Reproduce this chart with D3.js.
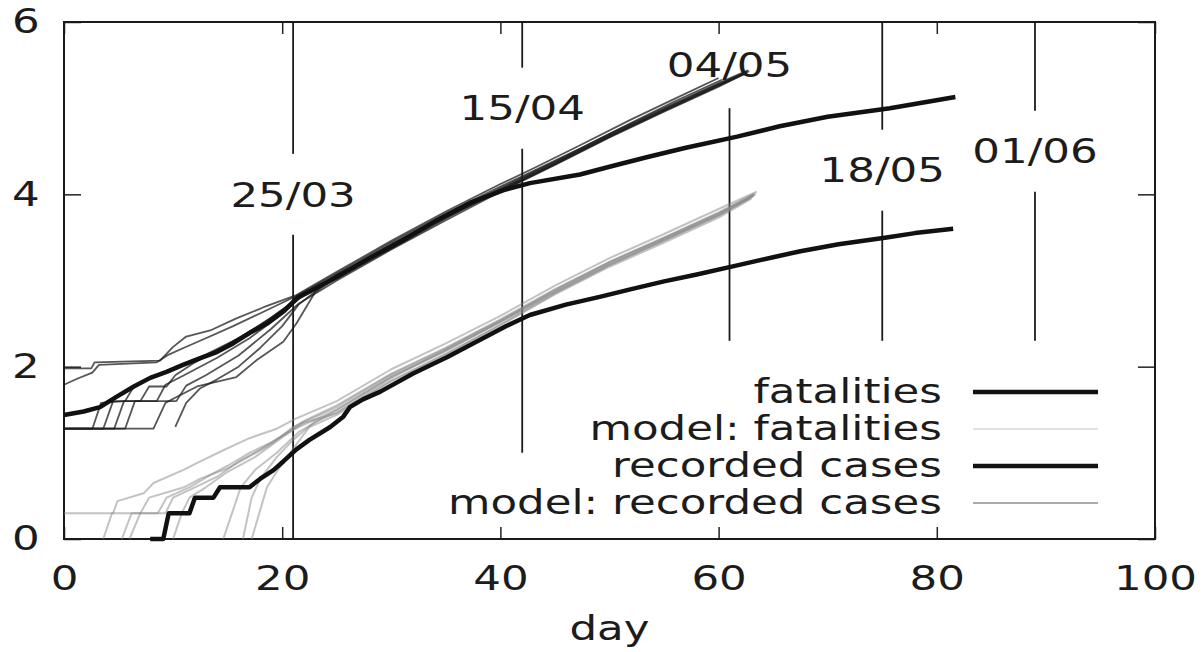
<!DOCTYPE html>
<html>
<head>
<meta charset="utf-8">
<script src="https://cdn.jsdelivr.net/npm/d3@7"></script>
<style>
body { margin: 0; background: #fff; }
text { font-family: "DejaVu Sans", Verdana, sans-serif; font-size: 34px; fill: #1c1c1c; }
</style>
</head>
<body>
<script>

var xTicks = [0, 20, 40, 60, 80, 100];
var yTicks = [0, 2, 4, 6];

// dates marked with vertical lines
var markDays = [21, 42, 61, 75, 89];
var markLabels = ["25/03", "15/04", "04/05", "18/05", "01/06"];
var markLabelLevels = [4.0, 5.0, 5.5, 4.28, 4.5];
var markLows = [0, 1.0, 2.3, 2.3, 2.3];
var markHighs = [6, 6, 5.0, 6, 6];

var legendNames = ["fatalities", "model: fatalities", "recorded cases", "model: recorded cases"];

// [day, log10 value]
var recordedCases = [
    [0, 1.44], [1.8, 1.48], [3.3, 1.53], [4.8, 1.65], [6.4, 1.77], [7.9, 1.87], [9.4, 1.94],
    [10.9, 2.02], [12.5, 2.1], [14, 2.17], [15.5, 2.27], [17, 2.39], [18.6, 2.5], [20.1, 2.64],
    [21.4, 2.8], [25, 3.04], [28, 3.26], [31.1, 3.47], [34.2, 3.7], [37.2, 3.9], [40.3, 4.05],
    [42.7, 4.13], [47.3, 4.23], [50, 4.32], [53.4, 4.43], [57, 4.54], [61.7, 4.67], [65.6, 4.79],
    [70, 4.9], [75.7, 5.0], [81.7, 5.13]
];

var fatalities = [
    [7.9, 0], [9.1, 0], [9.6, 0.3], [11.5, 0.3], [12.0, 0.48], [13.7, 0.48], [14.3, 0.6], [17, 0.6],
    [18, 0.7], [19.2, 0.8], [20.1, 0.9], [21.3, 1.04], [22.5, 1.15], [24.4, 1.3], [25.6, 1.42],
    [26.2, 1.53], [27.4, 1.62], [29, 1.71], [32, 1.92], [35.1, 2.11], [38.1, 2.31], [40.5, 2.47],
    [42.7, 2.6], [46, 2.72], [49.1, 2.81], [52, 2.9], [55, 2.99], [58, 3.07], [61.5, 3.17],
    [65, 3.27], [67.5, 3.34], [71, 3.42], [75.4, 3.5], [78, 3.55], [81.5, 3.6]
];

var modelCases = [
    [[0, 1.98], [2.5, 1.98], [2.8, 2.05], [8.8, 2.07], [10, 2.23], [11.2, 2.35], [13.4, 2.42], [15.8, 2.56],
     [18.3, 2.69], [21.3, 2.83], [25, 3.1], [30, 3.46], [35, 3.8], [40, 4.12], [43, 4.3], [47.3, 4.57],
     [52, 4.87], [56, 5.11], [60, 5.35]],
    [[0, 1.79], [1.2, 1.86], [2.6, 1.93], [3.2, 2.02], [8.5, 2.05], [9.6, 2.14], [11, 2.22], [13, 2.33],
     [15.5, 2.47], [18, 2.62], [21.3, 2.82], [25, 3.08], [30, 3.44], [35, 3.78], [40, 4.09], [43, 4.27],
     [47.3, 4.53], [52, 4.83], [56, 5.08], [60.3, 5.33]],
    [[0, 1.28], [2.6, 1.28], [3.4, 1.58], [5.6, 1.6], [6.4, 1.77], [7.8, 1.86], [10, 1.98], [13, 2.14],
     [16, 2.33], [19, 2.57], [21.5, 2.8], [25, 3.05], [30, 3.4], [35, 3.73], [40, 4.04], [45, 4.35],
     [50, 4.67], [55, 4.97], [60, 5.26], [62.6, 5.41]],
    [[0, 1.28], [3.6, 1.28], [4.5, 1.6], [7, 1.6], [7.8, 1.77], [9.4, 1.77], [10.2, 1.9], [12, 2.05],
     [15, 2.26], [18, 2.48], [21.5, 2.79], [25, 3.02], [30, 3.37], [35, 3.72], [40, 4.06], [45, 4.37],
     [50, 4.69], [55, 4.99], [60, 5.28], [62.8, 5.43]],
    [[0, 1.28], [4.6, 1.28], [5.5, 1.6], [8.5, 1.6], [9.3, 1.79], [11, 1.9], [14, 2.1], [17, 2.33],
     [20, 2.61], [22, 2.84], [25, 3.06], [30, 3.42], [35, 3.76], [40, 4.05], [45, 4.36], [50, 4.68],
     [55, 4.98], [60, 5.27], [62.5, 5.42]],
    [[0, 1.28], [5.6, 1.28], [6.5, 1.6], [10.3, 1.6], [11.2, 1.78], [13, 1.9], [16, 2.13], [19, 2.44],
     [21.5, 2.73], [25, 3.0], [30, 3.36], [35, 3.7], [40, 4.03], [45, 4.34], [50, 4.66], [55, 4.96],
     [60, 5.25], [62.4, 5.4]],
    [[0, 1.28], [8.2, 1.28], [9.3, 1.58], [10.5, 1.66], [12.2, 1.77], [15.8, 1.88], [17.7, 2.08],
     [20.1, 2.29], [21.3, 2.5], [23, 2.86], [25, 3.04], [30, 3.41], [35, 3.76], [40, 4.07], [45, 4.38],
     [50, 4.7], [55, 5.0], [60, 5.29], [62.7, 5.44]],
    [[10.2, 1.3], [11.2, 1.58], [12.5, 1.75], [14, 1.85], [16, 2.0], [18, 2.22], [20, 2.47], [21.5, 2.72],
     [25, 3.07], [30, 3.39], [35, 3.74], [40, 4.04], [45, 4.35], [50, 4.67], [55, 4.97], [60, 5.26],
     [62.6, 5.42]]
];

var modelFatalities = [
    [[0, 0.3], [4.5, 0.3], [4.9, 0.44], [7.3, 0.53], [8.2, 0.65], [10.9, 0.8], [12.5, 0.9], [14.6, 1.03],
     [17, 1.17], [19.5, 1.28], [21.3, 1.4], [25, 1.6], [30, 1.97], [35, 2.27], [40, 2.59], [45, 2.94],
     [50, 3.26], [55, 3.54], [60, 3.83], [63.5, 4.03]],
    [[3.6, 0], [4.4, 0.3], [9.3, 0.3], [10, 0.48], [12, 0.6], [14, 0.72], [16, 0.9], [18, 1.04], [20, 1.2],
     [22, 1.37], [25, 1.55], [30, 1.92], [35, 2.22], [40, 2.55], [45, 2.9], [50, 3.22], [55, 3.5],
     [60, 3.79], [63.3, 4.01]],
    [[5.3, 0], [6.2, 0.3], [8.6, 0.3], [9.4, 0.48], [11.5, 0.6], [13.5, 0.75], [15, 0.85], [17, 1.0],
     [19, 1.12], [21, 1.27], [25, 1.5], [30, 1.88], [35, 2.18], [40, 2.52], [45, 2.87], [50, 3.19],
     [55, 3.47], [60, 3.76], [63.2, 3.99]],
    [[6, 0], [7, 0.3], [7.8, 0.48], [11, 0.6], [12.5, 0.7], [15, 0.82], [17, 0.96], [19, 1.1], [21, 1.3],
     [25, 1.53], [30, 1.91], [35, 2.21], [40, 2.54], [45, 2.88], [50, 3.21], [55, 3.49], [60, 3.78],
     [63.4, 4.0]],
    [[10, 0], [10.8, 0.3], [11.5, 0.48], [13, 0.6], [15, 0.78], [17.5, 0.95], [20, 1.18], [22, 1.35],
     [25, 1.46], [30, 1.84], [35, 2.15], [40, 2.48], [45, 2.84], [50, 3.16], [55, 3.44], [60, 3.73],
     [63, 3.95]],
    [[14.6, 0], [15.4, 0.3], [16.2, 0.6], [17.5, 0.8], [19.5, 1.0], [21.5, 1.24], [25, 1.5], [30, 1.89],
     [35, 2.19], [40, 2.52], [45, 2.86], [50, 3.18], [55, 3.46], [60, 3.75], [63.1, 3.97]],
    [[16.4, 0], [17.2, 0.48], [18, 0.7], [19.5, 0.95], [21, 1.15], [23, 1.36], [25, 1.47], [30, 1.87],
     [35, 2.2], [40, 2.53], [45, 2.89], [50, 3.21], [55, 3.49], [60, 3.78], [63.3, 4.0]],
    [[17.2, 0], [17.9, 0.3], [18.6, 0.6], [19.6, 0.8], [21, 1.05], [22.5, 1.3], [25, 1.44], [30, 1.83],
     [35, 2.14], [40, 2.49], [45, 2.85], [50, 3.18], [55, 3.47], [60, 3.76], [63.2, 3.98]]
];

/*
* view
*/
var width = 1203,
    height = 652,
    margin = { top: 22, right: 48, bottom: 113, left: 64 };

// the printed text is wider than DejaVu at the same height
var stretch = "scale(1.28,1)";

var styles = {
    "fatalities": { stroke: "#111", width: 4.5, opacity: 1 },
    "model: fatalities": { stroke: "#888", width: 2, opacity: 0.5 },
    "recorded cases": { stroke: "#111", width: 4.5, opacity: 1 },
    "model: recorded cases": { stroke: "#1e1e1e", width: 1.8, opacity: 0.75 }
};

var svg = d3.select("body").append("svg")
    .attr("width", width)
    .attr("height", height);

var x = d3.scaleLinear().domain([0, 100]).range([margin.left, width - margin.right]);
var y = d3.scaleLinear().domain([0, 6]).range([height - margin.bottom, margin.top]);

var line = d3.line()
    .x(function (d) { return x(d[0]); })
    .y(function (d) { return y(d[1]); });

// axes, ticks pointing inwards, mirrored on top and right
var gx = svg.append("g")
    .attr("transform", "translate(0," + y(0) + ")")
    .call(d3.axisBottom(x).tickValues(xTicks).tickFormat(d3.format("d"))
        .tickSize(-12).tickSizeOuter(0).tickPadding(27));
var gy = svg.append("g")
    .attr("transform", "translate(" + x(0) + ",0)")
    .call(d3.axisLeft(y).tickValues(yTicks).tickFormat(d3.format("d"))
        .tickSize(-17).tickSizeOuter(0).tickPadding(19));
var gx2 = svg.append("g")
    .attr("transform", "translate(0," + y(6) + ")")
    .call(d3.axisTop(x).tickValues(xTicks).tickSize(-12).tickSizeOuter(0).tickFormat(""));
var gy2 = svg.append("g")
    .attr("transform", "translate(" + x(100) + ",0)")
    .call(d3.axisRight(y).tickValues(yTicks).tickSize(-17).tickSizeOuter(0).tickFormat(""));

[gx, gy, gx2, gy2].forEach(function (g) {
    g.attr("font-size", null).attr("font-family", null);
    g.select(".domain").remove();
    g.selectAll(".tick line").attr("stroke", "#222").attr("stroke-width", 1.5);
    g.selectAll(".tick text").attr("transform", stretch);
});

svg.append("rect")
    .attr("x", x(0))
    .attr("y", y(6))
    .attr("width", x(100) - x(0))
    .attr("height", y(0) - y(6))
    .attr("fill", "none")
    .attr("stroke", "#1a1a1a")
    .attr("stroke-width", 2);

svg.append("text")
    .attr("text-anchor", "middle")
    .attr("transform", "translate(" + x(50) + ",640) " + stretch)
    .text("day");

// date markers: line broken around the label
var gap = 0.47;
var marks = svg.selectAll(".mark")
    .data(markDays)
    .enter()
    .append("g")
    .attr("class", "mark");

marks.each(function (d, i) {
    var g = d3.select(this);
    var lev = markLabelLevels[i];
    var segs = [[markLows[i], Math.min(markHighs[i], lev - gap)]];
    if (lev + gap < markHighs[i]) segs.push([lev + gap, markHighs[i]]);
    segs.forEach(function (s) {
        g.append("line")
            .attr("x1", x(d)).attr("x2", x(d))
            .attr("y1", y(s[0])).attr("y2", y(s[1]))
            .attr("stroke", "#1a1a1a")
            .attr("stroke-width", 1.8);
    });
    g.append("text")
        .attr("text-anchor", "middle")
        .attr("dy", "0.36em")
        .attr("transform", "translate(" + x(d) + "," + y(lev) + ") " + stretch)
        .text(markLabels[i]);
});

function drawRuns(runs, st) {
    svg.append("g").selectAll("path")
        .data(runs)
        .enter()
        .append("path")
        .attr("d", line)
        .attr("fill", "none")
        .attr("stroke", st.stroke)
        .attr("stroke-opacity", st.opacity)
        .attr("stroke-width", st.width)
        .attr("stroke-linejoin", "round");
}

drawRuns(modelFatalities, styles["model: fatalities"]);
drawRuns(modelCases, styles["model: recorded cases"]);
drawRuns([fatalities], styles["fatalities"]);
drawRuns([recordedCases], styles["recorded cases"]);

// legend
var legend = svg.selectAll(".legend")
    .data(legendNames)
    .enter()
    .append("g")
    .attr("class", "legend")
    .attr("transform", function (d, i) { return "translate(0," + (392 + i * 37) + ")"; });

legend.append("text")
    .attr("text-anchor", "end")
    .attr("dy", "0.33em")
    .attr("transform", "translate(942,0) " + stretch)
    .text(function (d) { return d; });

legend.append("line")
    .attr("x1", 973)
    .attr("x2", 1098)
    .attr("stroke", function (d) { return styles[d].stroke; })
    .attr("stroke-opacity", function (d) { return styles[d].opacity; })
    .attr("stroke-width", function (d) { return d.indexOf("model") === 0 ? 1.2 : styles[d].width; });

</script>
</body>
</html>
